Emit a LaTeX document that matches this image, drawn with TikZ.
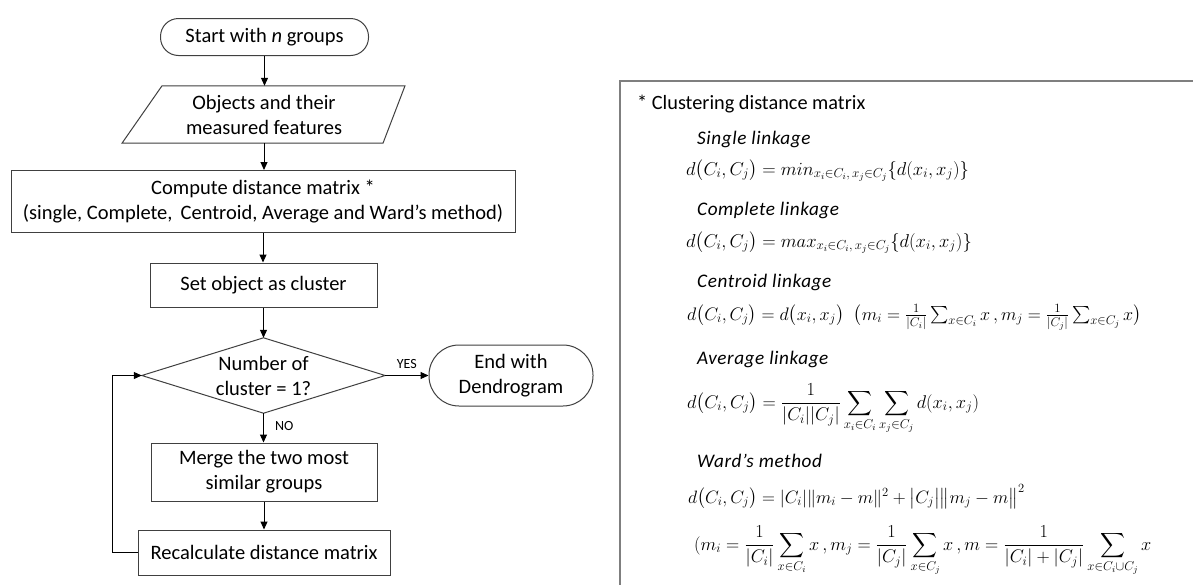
\RequirePackage{fix-cm}
\documentclass[tikz,border=0pt]{standalone}
\usepackage{amsmath}
\usepackage{fontspec}
\setmainfont{Carlito}
\usetikzlibrary{arrows.meta}
\definecolor{edge}{HTML}{404040}
\definecolor{panel}{HTML}{7F7F7F}
\begin{document}
\begin{tikzpicture}[x=1pt,y=-1pt,
  txt/.style={font=\fontsize{20.5}{25}\selectfont, align=center, inner sep=0pt},
  procbox/.style={draw=edge, line width=1pt, txt},
  term/.style={draw=edge, line width=1pt, txt},
  conn/.style={draw=black, line width=1pt, -{Triangle[length=8pt,width=7pt]}},
  small/.style={font=\fontsize{14}{16}\selectfont, inner sep=0pt},
  hdr/.style={font=\fontsize{19.2}{21}\selectfont\itshape\addfontfeatures{LetterSpace=3}, anchor=base west, inner sep=0pt},
  eqn/.style={anchor=base west, inner sep=0pt}]
\useasboundingbox (0,0) rectangle (1193,584);
\fill[white] (0,0) rectangle (1193,584);

% ---------- flowchart ----------
\node[term, minimum width=208pt, minimum height=37pt, rounded corners=18pt] (start) at (264.5,37) {Start with \textit{n} groups};
\node[txt, minimum width=230pt, minimum height=57pt] (para) at (264,114.5) {Objects and their\\measured features};
\draw[edge, line width=1pt] ([xshift=-102pt]para.north) -- ([xshift=141pt]para.north)
  -- ([xshift=119pt]para.south) -- ([xshift=-142pt]para.south) -- cycle;
\node[procbox, minimum width=504pt, minimum height=62pt] (comp) at (263,201.5) {Compute distance matrix *\\(single, Complete,\, Centroid, Average and Ward’s method)};
\node[procbox, minimum width=227pt, minimum height=44pt] (set) at (263.5,285) {Set object as cluster};
\node[txt, minimum width=243pt, minimum height=75pt] (dia) at (263.5,375.5) {Number of\\cluster = 1?};
\draw[edge, line width=1pt] (dia.north) -- (dia.east) -- (dia.south) -- (dia.west) -- cycle;
\node[term, minimum width=164pt, minimum height=61pt, rounded corners=30pt] (end) at (511,375.5) {End with\\Dendrogram};
\node[procbox, minimum width=226pt, minimum height=58pt] (merge) at (264,472) {Merge the two most\\similar groups};
\node[procbox, minimum width=252pt, minimum height=45pt] (recalc) at (264,552.5) {Recalculate distance matrix};
\coordinate (loopc) at (112,552.5);

\draw[conn] (start.south) -- (start.south |- para.north);
\draw[conn] (para.south) -- (para.south |- comp.north);
\draw[conn] (comp.south) -- (comp.south |- set.north);
\draw[conn] (set.south) -- (set.south |- dia.north);
\draw[conn] (dia.east) -- (end.west) node[small, pos=0.5, above=6pt] (yes) {YES};
\draw[conn] (dia.south) -- (dia.south |- merge.north) node[small, pos=0.45, right=11pt] (no) {NO};
\draw[conn] (merge.south) -- (merge.south |- recalc.north);
\draw[conn] (recalc.west) -- (loopc) |- (dia.west);

% ---------- panel ----------
\draw[panel, line width=2pt] (1200,81) -- (620,81) -- (620,590);
\node[font=\fontsize{20.3}{22}\selectfont, anchor=base west, inner sep=0pt] (title) at (637,109) {* Clustering distance matrix};

\node[hdr] (l1) at (697,144) {Single linkage};
\node[eqn, font=\fontsize{18.6}{22}\selectfont] (e1) at (686,175) {$d\bigl(C_i,C_j\bigr)=min_{x_i\in C_i,\,x_j\in C_j}\{d(x_i,x_j)\}$};

\node[hdr] (l2) at (697,215) {Complete linkage};
\node[eqn, font=\fontsize{18.6}{22}\selectfont] (e2) at (686,247) {$d\bigl(C_i,C_j\bigr)=max_{x_i\in C_i,\,x_j\in C_j}\{d(x_i,x_j)\}$};

\node[hdr] (l3) at (697,287) {Centroid linkage};
\node[eqn, font=\fontsize{18.1}{22}\selectfont] (e3) at (687,320) {$d\bigl(C_i,C_j\bigr)=d\bigl(x_i,x_j\bigr)\;\;\bigl(m_i=\frac{1}{|C_i|}\textstyle\sum_{x\in C_i}x\,,m_j=\frac{1}{|C_j|}\sum_{x\in C_j}x\bigr)$};

\node[hdr] (l4) at (697,364) {Average linkage};
\node[eqn, font=\fontsize{18.4}{22}\selectfont] (e4) at (687,408) {$\displaystyle d\bigl(C_i,C_j\bigr)=\frac{1}{|C_i||C_j|}\sum_{x_i\in C_i}\sum_{x_j\in C_j} d(x_i,x_j)$};

\node[hdr] (l5) at (697,467) {Ward’s method};
\node[eqn, font=\fontsize{17.9}{22}\selectfont] (e5) at (688,503) {$d\bigl(C_i,C_j\bigr)=|C_i|\|m_i-m\|^2+\bigl|C_j\bigr|\bigl\|m_j-m\bigr\|^2$};
\node[eqn, font=\fontsize{18.3}{22}\selectfont] (e6) at (694,550) {$\displaystyle (m_i=\frac{1}{|C_i|}\sum_{x\in C_i}x\,,m_j=\frac{1}{|C_j|}\sum_{x\in C_j}x\,,m=\frac{1}{|C_i|+|C_j|}\sum_{x\in C_i\cup C_j}x$};
\end{tikzpicture}
\end{document}
